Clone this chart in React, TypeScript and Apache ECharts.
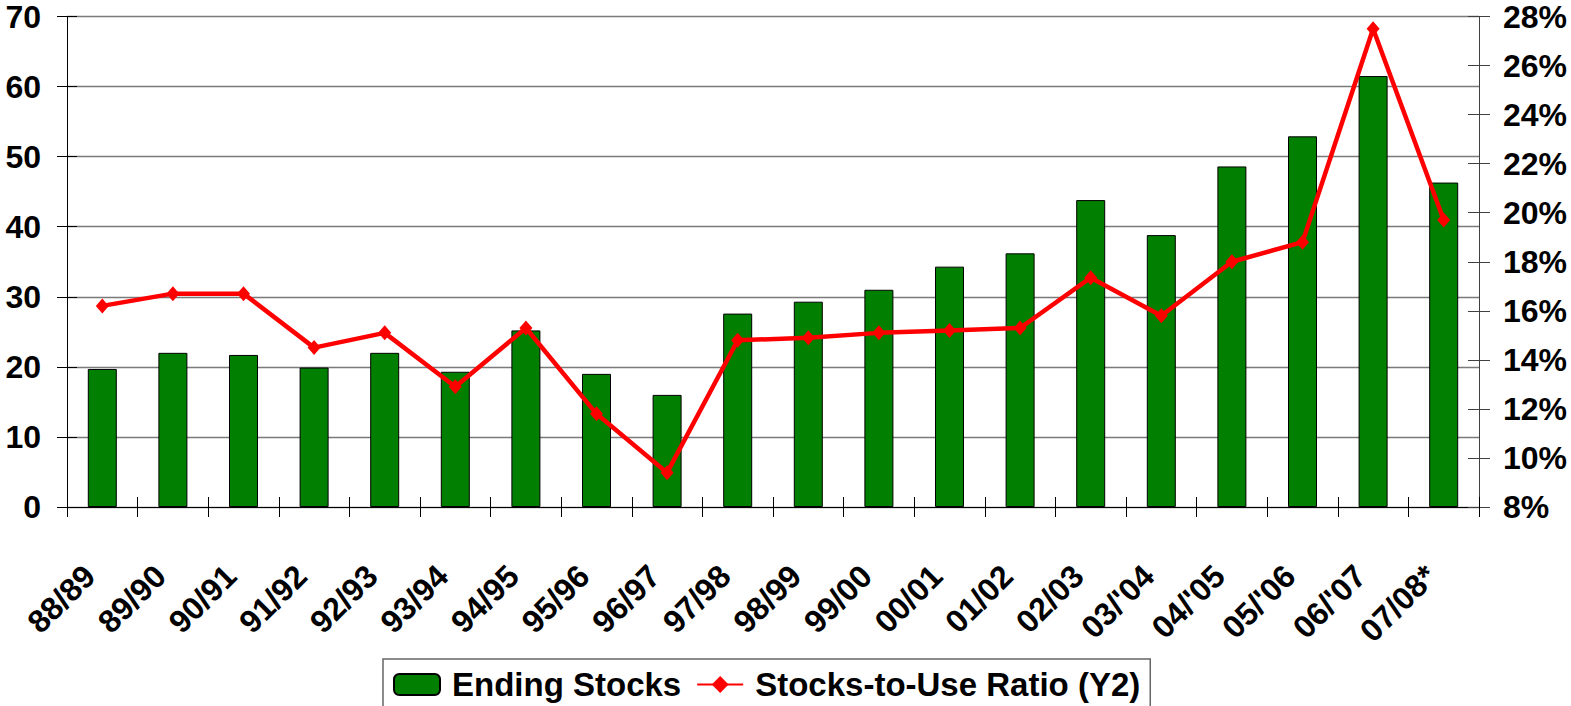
import React, { useEffect, useRef } from "react";
import * as echarts from "echarts";

const categories = [
  "88/89", "89/90", "90/91", "91/92", "92/93", "93/94", "94/95", "95/96", "96/97", "97/98",
  "98/99", "99/00", "00/01", "01/02", "02/03", "03/'04", "04/'05", "05/'06", "06/'07", "07/08*",
];
const endingStocks = [
  19.7, 22.0, 21.7, 19.9, 22.0, 19.3, 25.2, 19.0, 16.0, 27.6,
  29.3, 31.0, 34.3, 36.2, 43.8, 38.8, 48.6, 52.9, 61.5, 46.3,
];
const stocksToUse = [
  16.2, 16.7, 16.7, 14.5, 15.1, 12.9, 15.3, 11.8, 9.4, 14.8,
  14.9, 15.1, 15.2, 15.3, 17.35, 15.8, 18.0, 18.8, 27.5, 19.7,
];
const seriesNames = ["Ending Stocks", "Stocks-to-Use Ratio (Y2)"];

const FONT = '"Liberation Sans", Arial, sans-serif';

export default function App() {
  const ref = useRef<HTMLDivElement>(null);
  useEffect(() => {
    if (!ref.current) return;
    const chart = echarts.init(ref.current, undefined, { renderer: "svg" });
    const tickStyle = { color: "#000", width: 1 };
    chart.setOption({
      animation: false,
      backgroundColor: "#fff",
      grid: { left: 67, right: 92, top: 16.5, bottom: 199, containLabel: false },
      legend: {
        left: 383,
        top: 659,
        padding: [9, 10, 10, 10],
        itemWidth: 46,
        itemHeight: 21,
        itemGap: 15,
        borderColor: "#666",
        borderWidth: 1.5,
        data: seriesNames,
        textStyle: {
          fontFamily: FONT,
          fontWeight: "bold",
          fontSize: 33,
          color: "#000",
          padding: [0, 0, 0, 7],
        },
      },
      xAxis: [
        {
          type: "category",
          data: categories,
          position: "bottom",
          axisLine: { show: true, lineStyle: { color: "#000", width: 1 } },
          axisTick: { show: true, inside: false, length: 10, interval: 0, lineStyle: tickStyle },
          axisLabel: {
            interval: 0,
            rotate: 45,
            margin: 51,
            padding: [0, 18, 37, 0],
            fontFamily: FONT,
            fontWeight: "bold",
            fontSize: 32,
            color: "#000",
          },
          splitLine: { show: false },
        },
        {
          type: "category",
          data: categories,
          position: "bottom",
          axisLine: { show: false },
          axisTick: { show: true, inside: true, length: 10, interval: 0, lineStyle: tickStyle },
          axisLabel: { show: false },
          splitLine: { show: false },
        },
      ],
      yAxis: [
        {
          type: "value",
          min: 0,
          max: 70,
          interval: 10,
          position: "left",
          axisLine: { show: true, lineStyle: { color: "#000", width: 1 } },
          axisTick: { show: true, inside: false, length: 10, lineStyle: tickStyle },
          axisLabel: {
            margin: 26,
            fontFamily: FONT,
            fontWeight: "bold",
            fontSize: 32,
            color: "#000",
          },
          splitLine: { show: true, lineStyle: { color: "#7a7a7a", width: 1.3 } },
        },
        {
          type: "value",
          min: 8,
          max: 28,
          interval: 2,
          position: "right",
          axisLine: { show: true, lineStyle: { color: "#404040", width: 1 } },
          axisTick: { show: true, inside: false, length: 11, lineStyle: { color: "#404040", width: 1 } },
          axisLabel: {
            margin: 24,
            formatter: "{value}%",
            fontFamily: FONT,
            fontWeight: "bold",
            fontSize: 32,
            color: "#000",
          },
          splitLine: { show: false },
        },
        {
          type: "value",
          min: 0,
          max: 70,
          interval: 10,
          position: "left",
          axisLine: { show: false },
          axisTick: { show: true, inside: true, length: 10, lineStyle: tickStyle },
          axisLabel: { show: false },
          splitLine: { show: false },
        },
        {
          type: "value",
          min: 8,
          max: 28,
          interval: 2,
          position: "right",
          axisLine: { show: false },
          axisTick: { show: true, inside: true, length: 11, lineStyle: { color: "#404040", width: 1 } },
          axisLabel: { show: false },
          splitLine: { show: false },
        },
      ],
      series: [
        {
          name: seriesNames[0],
          type: "bar",
          xAxisIndex: 0,
          yAxisIndex: 0,
          data: endingStocks,
          barWidth: 29,
          itemStyle: { color: "#007F00", borderColor: "#000", borderWidth: 1 },
        },
        {
          name: seriesNames[1],
          type: "line",
          xAxisIndex: 0,
          yAxisIndex: 1,
          data: stocksToUse,
          symbol: "diamond",
          symbolSize: [13, 15],
          showAllSymbol: true,
          lineStyle: { color: "#FF0000", width: 4.5 },
          itemStyle: { color: "#FF0000" },
        },
      ],
    });
    return () => chart.dispose();
  }, []);
  return (
    <div
      ref={ref}
      style={{ position: "fixed", left: 0, top: 0, width: 1571, height: 706, background: "#fff" }}
    />
  );
}
